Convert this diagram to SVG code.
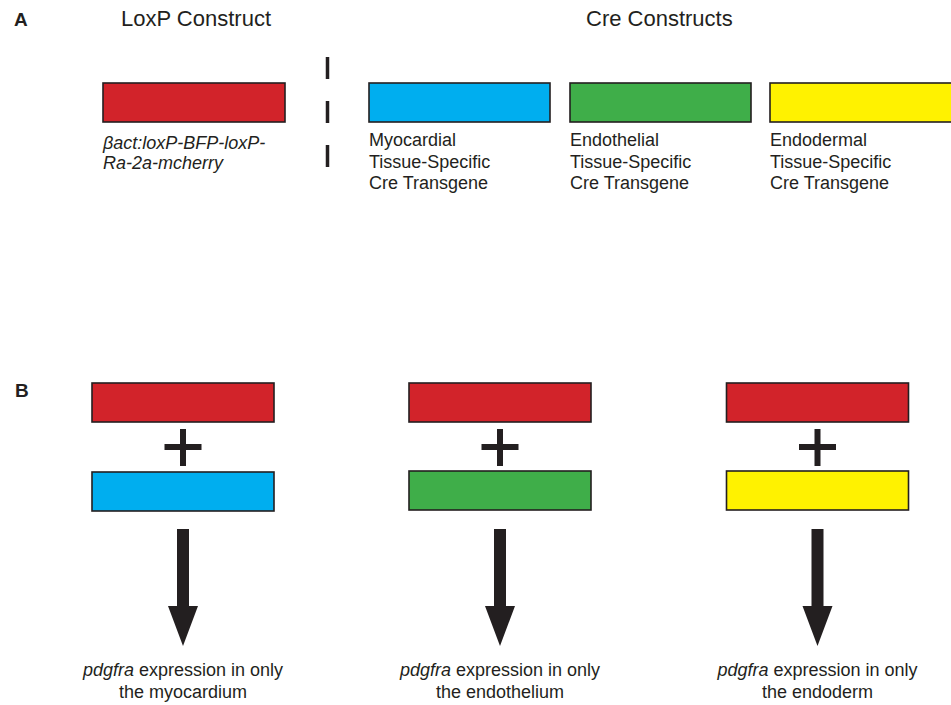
<svg xmlns="http://www.w3.org/2000/svg" width="951" height="705" viewBox="0 0 951 705">
<style>
  text { font-family: "Liberation Sans", Arial, sans-serif; fill: #231f20; }
  .panel { font-size: 19px; font-weight: bold; }
  .title { font-size: 22px; }
  .lbl { font-size: 18px; }
  .it { font-style: italic; }
  .box { stroke: #231f20; stroke-width: 1.6; }
  .red { fill: #d2232a; }
  .cyan { fill: #00aeef; }
  .green { fill: #3fae49; }
  .yellow { fill: #fff200; }
  .plus { stroke: #231f20; stroke-width: 6; fill: none; }
  .arrow { fill: #231f20; }
</style>
<rect width="951" height="705" fill="#ffffff"/>

<text class="panel" x="14" y="26">A</text>
<text class="panel" x="15" y="397">B</text>

<text class="title" x="121" y="26">LoxP Construct</text>
<text class="title" x="586" y="26">Cre Constructs</text>

<line x1="327.5" y1="57" x2="327.5" y2="167" stroke="#231f20" stroke-width="3.5" stroke-dasharray="22 22"/>

<g id="loxp-construct">
  <rect class="box red" x="103" y="83" width="182" height="39"/>
  <text class="lbl it" x="103" y="149">βact:loxP-BFP-loxP-</text>
  <text class="lbl it" x="103" y="169">Ra-2a-mcherry</text>
</g>

<g id="cre-myocardial">
  <rect class="box cyan" x="369" y="83" width="181" height="39"/>
  <text class="lbl" x="369" y="146">Myocardial</text>
  <text class="lbl" x="369" y="167.5">Tissue-Specific</text>
  <text class="lbl" x="369" y="189">Cre Transgene</text>
</g>

<g id="cre-endothelial">
  <rect class="box green" x="570" y="83" width="181" height="39"/>
  <text class="lbl" x="570" y="146">Endothelial</text>
  <text class="lbl" x="570" y="167.5">Tissue-Specific</text>
  <text class="lbl" x="570" y="189">Cre Transgene</text>
</g>

<g id="cre-endodermal">
  <rect class="box yellow" x="770" y="83" width="195" height="39"/>
  <text class="lbl" x="770" y="146">Endodermal</text>
  <text class="lbl" x="770" y="167.5">Tissue-Specific</text>
  <text class="lbl" x="770" y="189">Cre Transgene</text>
</g>

<g id="combo-myocardium">
  <rect class="box red" x="92" y="383" width="182" height="39"/>
  <path class="plus" d="M183 429 V466 M164.5 447 H201.5"/>
  <rect class="box cyan" x="92" y="472" width="182" height="39"/>
</g>

<g id="combo-endothelium">
  <rect class="box red" x="409" y="383" width="182" height="39"/>
  <path class="plus" d="M500 429 V466 M481.5 447 H518.5"/>
  <rect class="box green" x="409" y="471" width="182" height="39"/>
</g>

<g id="combo-endoderm">
  <rect class="box red" x="726.5" y="383" width="182" height="39"/>
  <path class="plus" d="M817.5 429 V466 M799 447 H836"/>
  <rect class="box yellow" x="726.5" y="471" width="182" height="39"/>
</g>

<g id="result-myocardium">
  <text class="lbl" x="183" y="676" text-anchor="middle"><tspan class="it">pdgfra</tspan> expression in only</text>
  <text class="lbl" x="183" y="698" text-anchor="middle">the myocardium</text>
</g>

<g id="result-endothelium">
  <text class="lbl" x="500" y="676" text-anchor="middle"><tspan class="it">pdgfra</tspan> expression in only</text>
  <text class="lbl" x="500" y="698" text-anchor="middle">the endothelium</text>
</g>

<g id="result-endoderm">
  <text class="lbl" x="817.5" y="676" text-anchor="middle"><tspan class="it">pdgfra</tspan> expression in only</text>
  <text class="lbl" x="817.5" y="698" text-anchor="middle">the endoderm</text>
</g>

<g id="connectors">
  <path class="arrow" d="M177 529 H189 V606 H198 L183 646 L168 606 H177 Z"/>
  <path class="arrow" d="M494 529 H506 V606 H515 L500 646 L485 606 H494 Z"/>
  <path class="arrow" d="M811.5 529 H823.5 V606 H832.5 L817.5 646 L802.5 606 H811.5 Z"/>
</g>
</svg>
